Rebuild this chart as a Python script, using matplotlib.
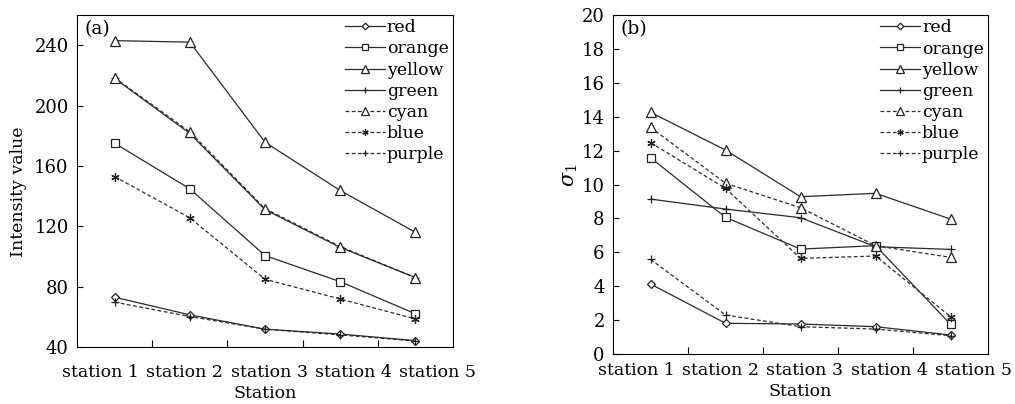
import numpy as np
import matplotlib
matplotlib.use('Agg')
import matplotlib.pyplot as plt

plt.rcParams['font.family'] = 'DejaVu Serif'
plt.rcParams['mathtext.fontset'] = 'dejavuserif'

stations = ['station 1', 'station 2', 'station 3', 'station 4', 'station 5']
names = ['red', 'orange', 'yellow', 'green', 'cyan', 'blue', 'purple']

# (a) intensity value
int_red = [73, 61.3, 51.8, 48.6, 44.2]
int_orange = [175, 144.8, 100.6, 83.3, 62]
int_yellow = [243, 242, 175.7, 143.7, 116]
int_green = [218, 181.5, 131, 106, 86]
int_cyan = [218.3, 182.6, 131.7, 106.5, 86]
int_blue = [152.9, 125.6, 84.9, 71.8, 58.6]
int_purple = [69.7, 60.2, 51.8, 48, 44]

# (b) sigma_1
sig_red = [4.13, 1.81, 1.77, 1.61, 1.12]
sig_orange = [11.58, 8.06, 6.19, 6.39, 1.75]
sig_yellow = [14.26, 12.03, 9.28, 9.48, 7.96]
sig_green = [9.14, 8.55, 8.04, 6.33, 6.17]
sig_cyan = [13.37, 10.07, 8.63, 6.39, 5.7]
sig_blue = [12.47, 9.77, 5.64, 5.78, 2.2]
sig_purple = [5.58, 2.3, 1.61, 1.47, 1.08]

styles = {
    'red': ('-', 'D', 4.5),
    'orange': ('-', 's', 6),
    'yellow': ('-', '^', 7),
    'green': ('-', '+', 6),
    'cyan': ('--', '^', 7),
    'blue': ('--', (6, 2, 0), 6),
    'purple': ('--', '+', 6),
}

fig = plt.figure(figsize=(10.15, 4.04), dpi=100)
ax1 = fig.add_axes([0.0759, 0.1411, 0.3704, 0.8218])
ax2 = fig.add_axes([0.604, 0.1238, 0.3695, 0.839])

x = np.arange(len(stations)) + 0.5
# the station labels sit spread a little wider than the points
label_pos = np.linspace(0.3125, 4.80, len(stations))


def draw(ax, series, ylim, yticks, ylabel, tag, ylabsize, ylab_xy, xpad, xlabpad):
    for name, vals in zip(names, series):
        ls, mk, ms = styles[name]
        ax.plot(x, vals, color='#2a2a2a', lw=0.9, linestyle=ls,
                dashes=(3, 2) if ls == '--' else (None, None),
                marker=mk, ms=ms, mfc='white', mec='#222222', mew=0.9, label=name)
    ax.set_xlim(0, 5)
    ax.set_ylim(*ylim)
    ax.set_yticks(yticks)
    ax.set_xticks([1, 2, 3, 4])
    ax.set_xticklabels([])
    ax.set_xticks(label_pos, minor=True)
    ax.set_xticklabels(stations, minor=True, fontsize=12.5)
    ax.tick_params(axis='x', which='minor', length=0, pad=xpad)
    ax.tick_params(axis='x', which='major', direction='in', length=5)
    ax.tick_params(axis='y', direction='in', length=4, labelsize=13, pad=6)
    ax.set_xlabel('Station', fontsize=12.5, labelpad=xlabpad)
    ax.set_ylabel(ylabel, fontsize=ylabsize)
    ax.yaxis.set_label_coords(*ylab_xy)
    ax.text(0.02, 0.985, tag, transform=ax.transAxes, fontsize=13.5, va='top', ha='left')
    ax.legend(loc='upper right', frameon=False, fontsize=12.5, handlelength=2.3, handletextpad=0.1,
              labelspacing=0.24, borderaxespad=0.2, borderpad=0.05, markerscale=0.75)


draw(ax1, [int_red, int_orange, int_yellow, int_green, int_cyan, int_blue, int_purple],
     (40, 260), np.arange(40, 241, 40), 'Intensity value', '(a)', 12.5, (-0.133, 0.467), 12, 3)
draw(ax2, [sig_red, sig_orange, sig_yellow, sig_green, sig_cyan, sig_blue, sig_purple],
     (0, 20), np.arange(0, 21, 2), r'$\sigma_1$', '(b)', 15, (-0.088, 0.528), 6, 3)

fig.savefig('out.png', dpi=100)
